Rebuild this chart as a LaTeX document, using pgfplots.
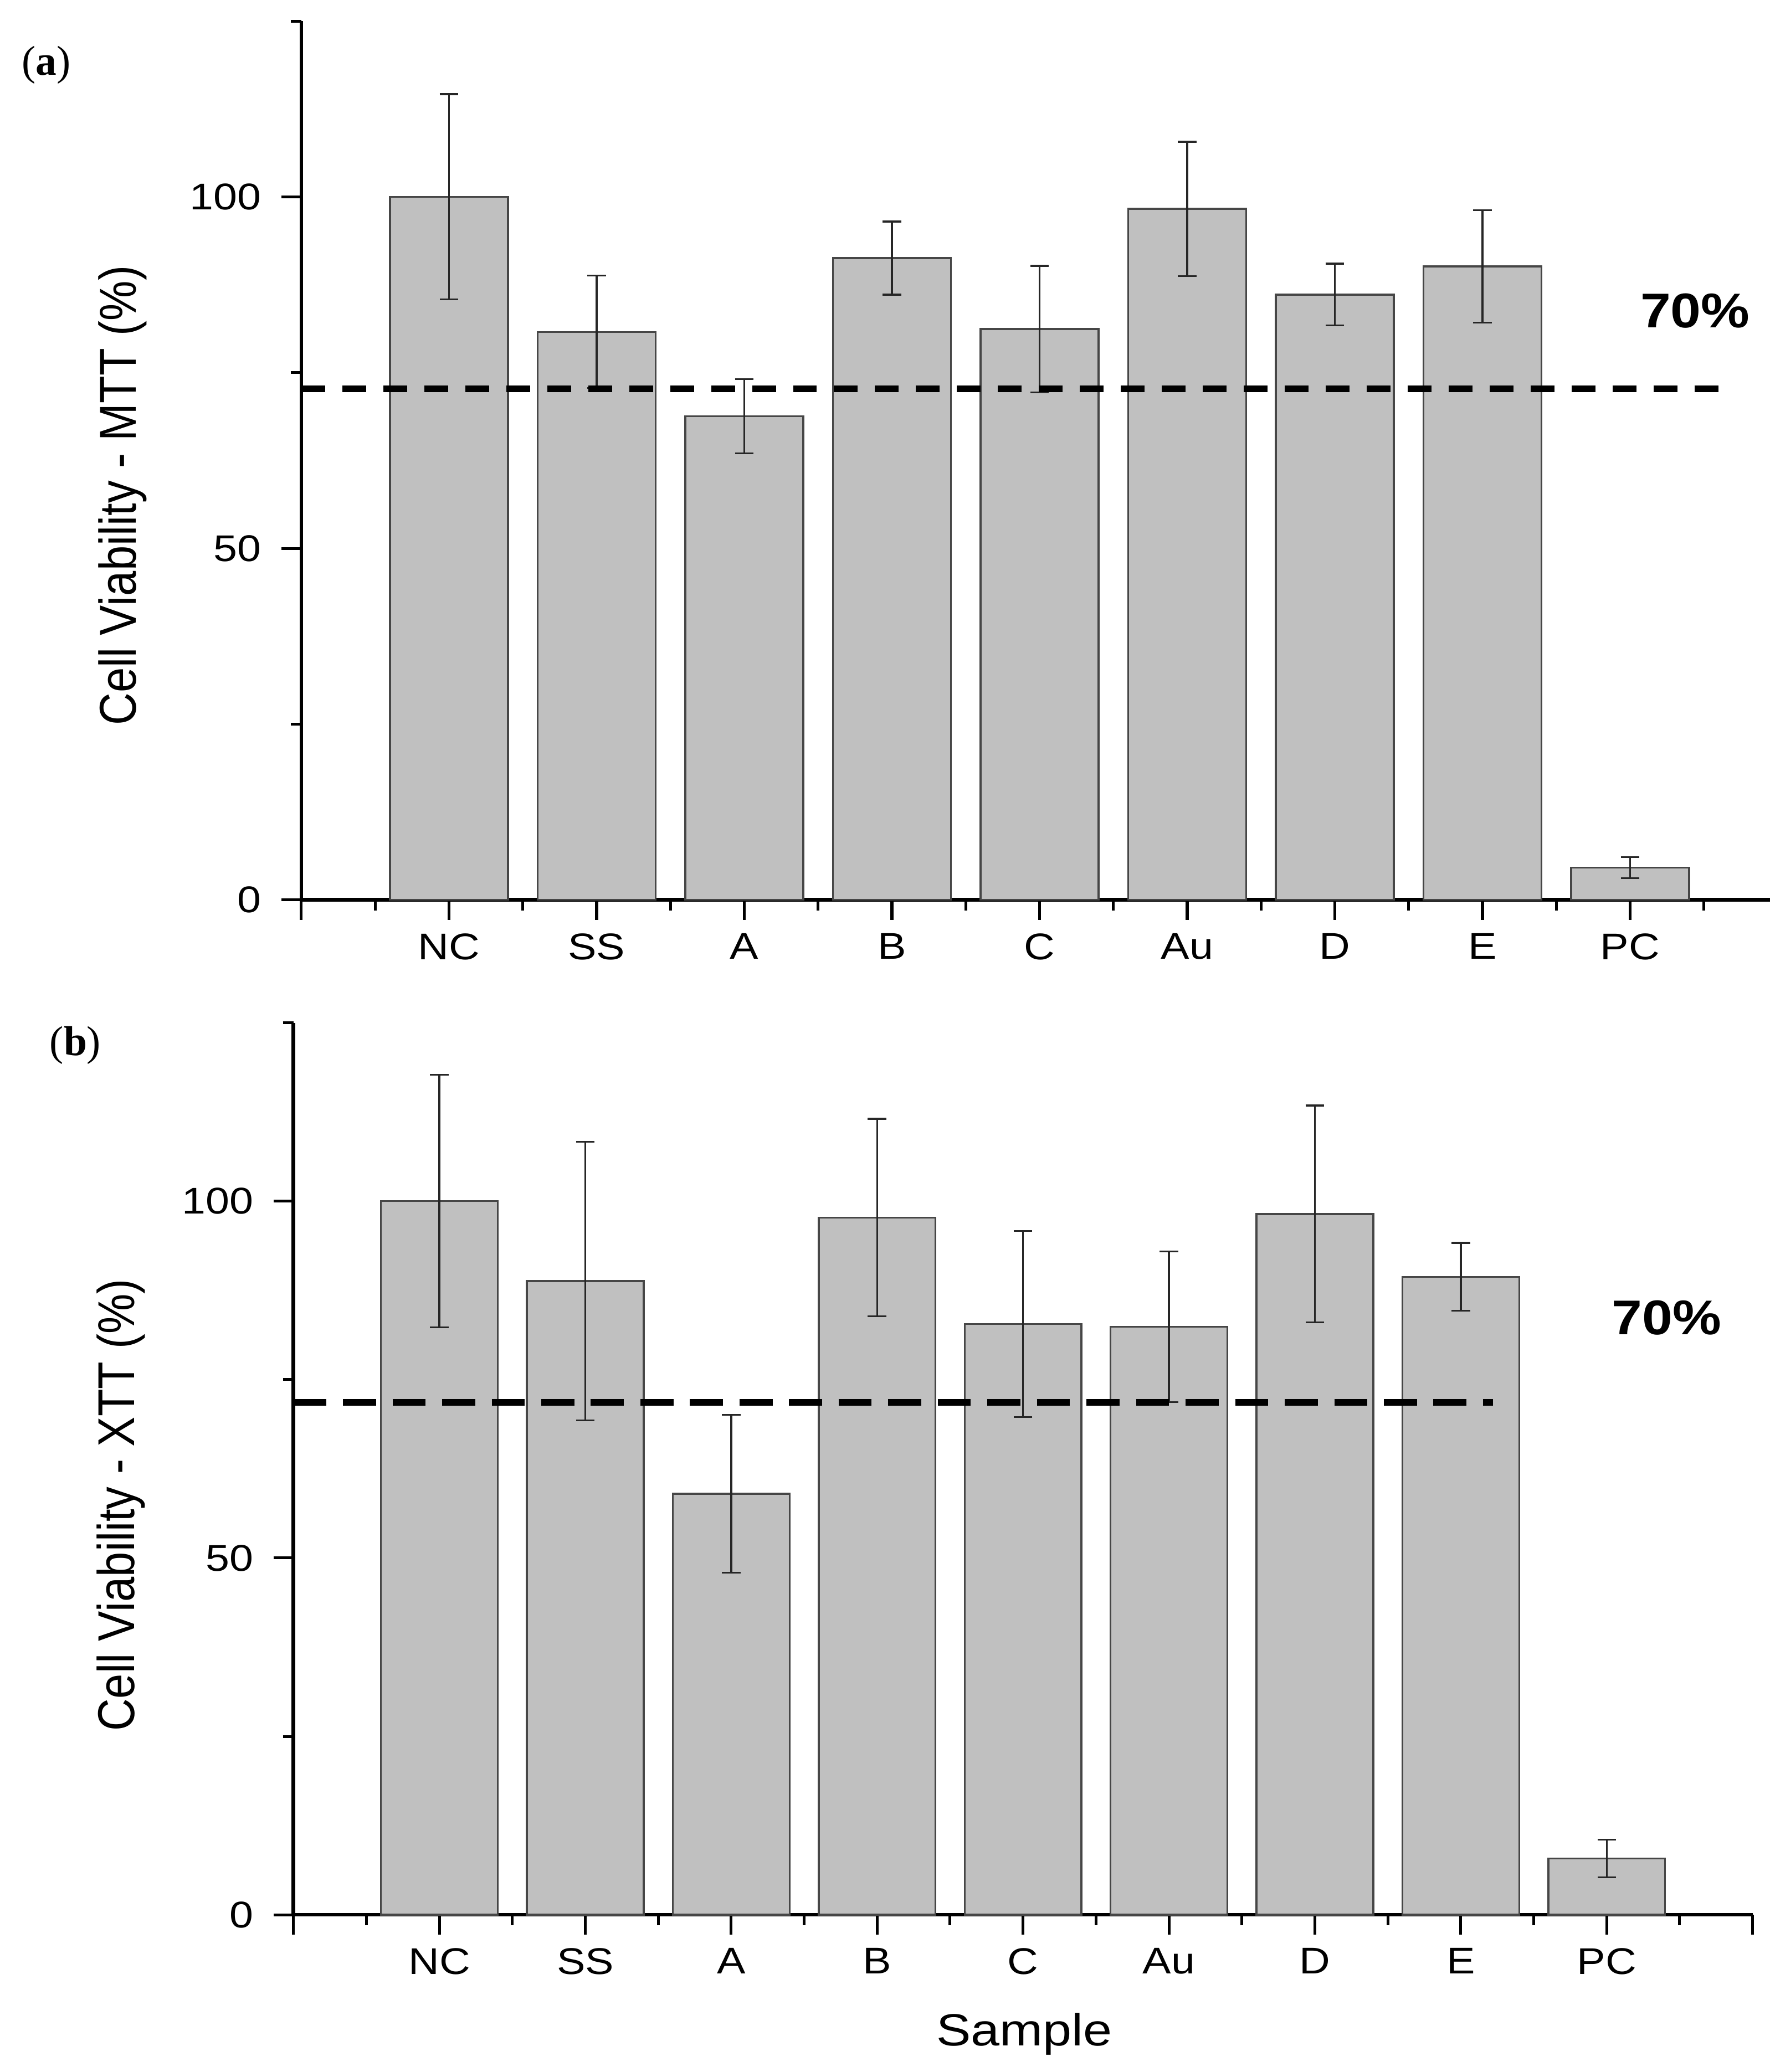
\documentclass[border=0pt]{standalone}
\usepackage{fontspec}
\setmainfont{Liberation Sans}
\newfontfamily\seriffont{Liberation Serif}
\usepackage{pgfplots}
\pgfplotsset{compat=1.18}
\definecolor{barfill}{RGB}{192,192,192}
\definecolor{baredge}{RGB}{70,70,70}
\pgfplotsset{
  panel/.style={
    scale only axis,
    axis x line*=bottom, axis y line*=left,
    xmin=0, xmax=10, ymin=0, ymax=125,
    xtick={0,1,...,10},
    xticklabels={,NC,SS,A,B,C,Au,D,E,PC,},
    minor xtick={0.5,1.5,...,9.5},
    ytick={0,50,100},
    minor ytick={25,75,125},
    tick align=outside,
    major tick length=0.3cm, minor tick length=0.16cm,
    tick style={black, line width=1.2pt},
    axis line style={black, line width=1.6pt},
    ticklabel style={font=\fontsize{16}{19}\selectfont, inner sep=0pt, xscale=1.15},
    xticklabel style={yshift=-0.2cm},
    yticklabel style={xshift=-0.26cm},
    /pgf/number format/assume math mode=true,
    clip=false,
  },
  bars/.style={
    ybar, bar width=0.8, fill=barfill, draw=baredge, line width=0.8pt,
    error bars/.cd, y dir=both, y explicit,
    error bar style={line width=0.8pt, color=black!85},
    error mark options={rotate=90, mark size=4pt, line width=0.8pt, color=black!85},
  },
}
\pgfplotstableread{
x y e
1 100.0 14.6
2 80.8 8.0
3 68.8 5.3
4 91.3 5.2
5 81.2 9.0
6 98.3 9.55
7 86.1 4.4
8 90.1 8.0
9 4.6 1.5
}\mtt
\pgfplotstableread{
x y e
1 100.0 17.7
2 88.8 19.5
3 59.0 11.05
4 97.7 13.85
5 82.8 13.05
6 82.4 10.55
7 98.2 15.2
8 89.4 4.75
9 7.9 2.65
}\xtt
\begin{document}
\begin{tikzpicture}
\useasboundingbox (0,0) rectangle (26.78cm,-31.36cm);
\begin{axis}[panel, width=22.34cm, height=13.3cm, at={(4.56cm,-13.62cm)}, anchor=south west]
  \addplot[bars] table[x=x, y=y, y error=e] {\mtt};
  \addplot[black, line width=2.7pt, dash pattern=on 0.36cm off 0.26cm] coordinates {(0,72.7) (9.69,72.7)};
  \node[font=\bfseries\fontsize{21}{25}\selectfont, xscale=1.12] at (axis cs:9.44,83.8) {70\%};
\end{axis}
\begin{axis}[panel, width=22.08cm, height=13.5cm, at={(4.44cm,-28.98cm)}, anchor=south west]
  \addplot[bars] table[x=x, y=y, y error=e] {\xtt};
  \addplot[black, line width=2.7pt, dash pattern=on 0.5cm off 0.25cm] coordinates {(0,71.8) (8.22,71.8)};
  \node[font=\bfseries\fontsize{21}{25}\selectfont, xscale=1.12] at (axis cs:9.41,83.7) {70\%};
\end{axis}
\node[xscale=1.15, rotate=90, anchor=base, font=\fontsize{19.4}{23}\selectfont] at (2.06cm,-7.5cm) {Cell Viability - MTT (\%)};
\node[xscale=1.15, rotate=90, anchor=base, font=\fontsize{19.4}{23}\selectfont] at (2.03cm,-22.78cm) {Cell Viability - XTT (\%)};
\node[xscale=1.15, anchor=base, font=\fontsize{19.4}{23}\selectfont] at (15.5cm,-30.96cm) {Sample};
\node[font=\seriffont\fontsize{18}{22}\selectfont] at (0.7cm,-0.98cm) {(\textbf{a})};
\node[font=\seriffont\fontsize{18}{22}\selectfont] at (1.14cm,-15.82cm) {(\textbf{b})};
\end{tikzpicture}
\end{document}
